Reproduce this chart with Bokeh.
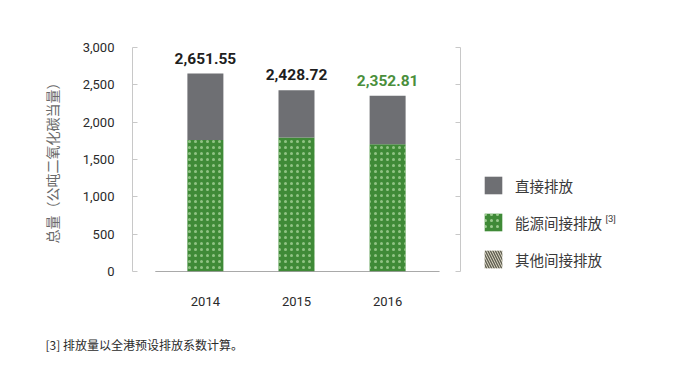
from bokeh.plotting import figure
from bokeh.layouts import row
from bokeh.models import (FactorRange, Range1d, LinearAxis, Legend, LegendItem, Title, Label,
                          ColumnDataSource, FixedTicker, NumeralTickFormatter)
from bokeh.core.properties import value
from bokeh.embed import file_html
from bokeh.resources import INLINE

years = ["2014", "2015", "2016"]
energy_indirect = [1760, 1795, 1705]
other_indirect = [0, 0, 0]
direct = [891.55, 633.72, 647.81]
totals = [2651.55, 2428.72, 2352.81]
total_labels = ["2,651.55", "2,428.72", "2,352.81"]
y_ticks = [0, 500, 1000, 1500, 2000, 2500, 3000]
series_names = ["直接排放", "能源间接排放", "其他间接排放"]
footnote_mark = "[3]"
footnote = "[3] 排放量以全港预设排放系数计算。"

NUM_FONT = "Roboto"
CJK_FONT = "Noto Sans CJK SC"

GREEN = "#3f8a37"
GRAY = "#6e6f73"
BEIGE = "#dedac6"
STACK = ["energy", "other", "direct"]
FILLS = [GREEN, BEIGE, GRAY]
HATCH = ["dot", "left_diagonal_line", " "]
HATCH_COLORS = ["#b3dba5", "#5f5e52", GRAY]
HATCH_ALPHA = [0.7, 1, 1]
HATCH_W = [0.75, 1.3, 1]

H = 364
W_MAIN = 470
W_LEG = 214

src = ColumnDataSource(dict(
    year=years, energy=energy_indirect, other=other_indirect, direct=direct,
    total=totals, label=total_labels,
    lcolor=["#1e1e1e", "#1e1e1e", "#4a8f3c"],
))

p = figure(x_range=FactorRange(*years, range_padding=0.2), y_range=Range1d(0, 3000),
           width=W_MAIN, height=H, output_backend="svg", toolbar_location=None,
           min_border_left=132, min_border_right=W_MAIN - 460, min_border_top=47,
           min_border_bottom=H - 271,
           outline_line_color=None, background_fill_color="white")
p.grid.visible = False

rs = p.vbar_stack(STACK, x="year", width=0.395, source=src,
                  fill_color=FILLS, line_color=None, hatch_pattern=HATCH,
                  hatch_color=HATCH_COLORS, hatch_alpha=HATCH_ALPHA,
                  hatch_scale=[6, 6, 6], hatch_weight=HATCH_W)

# baseline
p.segment(x0=[("2014", -0.55)], y0=[0], x1=[("2016", 0.57)], y1=[0],
          line_color="#555555", line_width=1.2)

# value labels
p.text(x="year", y="total", text="label", source=src, text_align="center",
       text_baseline="bottom", y_offset=-10, text_color="lcolor",
       text_font=value(NUM_FONT), text_font_style="bold", text_font_size="15.5px")

# left axis
ya = p.yaxis[0]
ya.ticker = FixedTicker(ticks=y_ticks)
ya.formatter = NumeralTickFormatter(format="0,0")
ya.axis_line_color = "#c8c8c8"
ya.major_tick_line_color = "#c8c8c8"
ya.major_tick_in = 5
ya.major_tick_out = 0
ya.minor_tick_line_color = None
ya.major_label_standoff = 18
ya.major_label_text_font = NUM_FONT
ya.major_label_text_font_size = "13px"
ya.major_label_text_color = "#2a2a2a"
ya.axis_label = "总量（公吨二氧化碳当量）"
ya.axis_label_text_font = CJK_FONT
ya.axis_label_text_font_size = "14px"
ya.axis_label_text_font_style = "normal"
ya.axis_label_text_color = "#6a6a6a"
ya.axis_label_standoff = 18

# right axis
ra = LinearAxis(ticker=FixedTicker(ticks=y_ticks), major_label_text_font_size="0px",
                major_label_standoff=0,
                axis_line_color="#c8c8c8", major_tick_line_color="#c8c8c8",
                major_tick_in=5, major_tick_out=0, minor_tick_line_color=None)
p.add_layout(ra, "right")

# x axis
xa = p.xaxis[0]
xa.axis_line_color = None
xa.major_tick_line_color = None
xa.major_tick_out = 0
xa.major_label_standoff = 25
xa.major_label_text_font = NUM_FONT
xa.major_label_text_font_size = "13px"
xa.major_label_text_color = "#2a2a2a"

p.add_layout(Title(text="\n" + footnote, align="left", offset=-87, standoff=16,
                   text_font=CJK_FONT, text_font_size="12px", text_font_style="normal",
                   text_color="#2a2a2a"), "below")

# legend panel (key swatches only)
q = figure(x_range=FactorRange(*years), y_range=Range1d(0, 3000), width=W_LEG, height=H,
           output_backend="svg", toolbar_location=None, min_border=0,
           outline_line_color=None, background_fill_color="white")
q.axis.visible = False
q.grid.visible = False
keys = q.vbar_stack(STACK, x="year", width=0.4, source=src,
                    fill_color=FILLS, line_color=None, hatch_pattern=HATCH,
                    hatch_color=HATCH_COLORS, hatch_alpha=[0.8, 1, 1],
                    hatch_scale=[6, 5, 6], hatch_weight=[0.75, 1.4, 1])
for k in keys:
    k.visible = False

legend = Legend(items=[LegendItem(label=series_names[0], renderers=[keys[2]]),
                       LegendItem(label=series_names[1], renderers=[keys[0]]),
                       LegendItem(label=series_names[2], renderers=[keys[1]])],
                location=(12, 1), orientation="vertical",
                glyph_width=22, glyph_height=22, spacing=15, padding=0, margin=0,
                label_standoff=11, border_line_color=None, background_fill_alpha=0,
                label_text_font=CJK_FONT, label_text_font_size="14.5px",
                label_text_color="#3a3a3a")
q.add_layout(legend, "center")
q.add_layout(Label(x=135, y=48, x_units="screen", y_units="screen", text=footnote_mark,
                   text_baseline="bottom",
                   text_font=NUM_FONT, text_font_size="9.5px", text_color="#3a3a3a"))

layout = row(p, q, spacing=0)
open("out.html", "w").write(file_html(layout, INLINE))
